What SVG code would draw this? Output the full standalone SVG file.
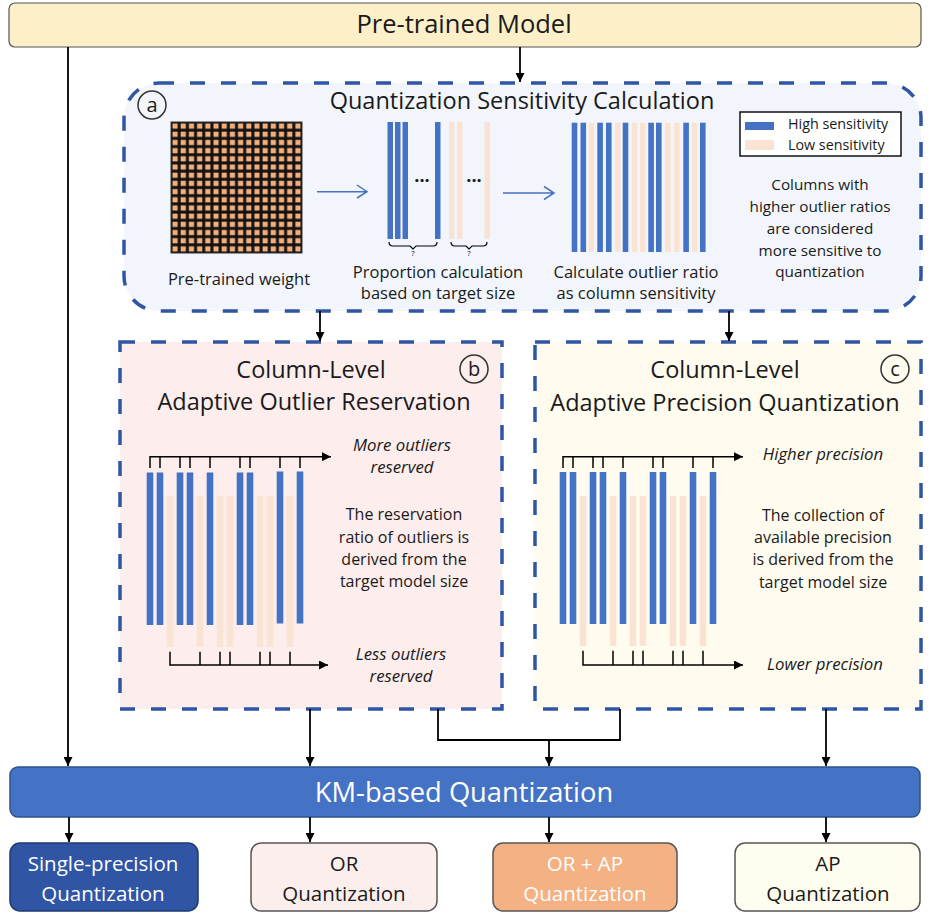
<svg xmlns="http://www.w3.org/2000/svg" width="928" height="913" viewBox="0 0 928 913">
<defs>
<style>
text{font-family:"Open Sans","Noto Sans","Liberation Sans",sans-serif;fill:#1a1a1a}
.c{text-anchor:middle}
.t15{font-size:16px}
.ta{font-size:16.5px}
.tr{font-size:15.3px}
.t22{font-size:23.5px}
.it{font-style:italic;font-size:16.8px}
.dash{fill:none;stroke:#2F55A4;stroke-width:3.5;stroke-dasharray:15 16}
.B{fill:#4472C4}
.L{fill:#FBE3D3}
.conn{fill:none;stroke:#000;stroke-width:1.8}
.ax{fill:none;stroke:#000;stroke-width:1.5}
.circ{fill:none;stroke:#333;stroke-width:1.5}
.barrow{fill:none;stroke:#4472C4;stroke-width:1.5}
</style>
<marker id="ah" viewBox="0 0 10 10" refX="10" refY="5" markerWidth="9" markerHeight="9" markerUnits="userSpaceOnUse" orient="auto"><path d="M0,0 L10,5 L0,10 z" fill="#000"/></marker>
<marker id="ah2" viewBox="0 0 10 10" refX="10" refY="5" markerWidth="10" markerHeight="9" markerUnits="userSpaceOnUse" orient="auto"><path d="M0,0 L10,5 L0,10 z" fill="#000"/></marker>
<pattern id="grid" x="171" y="122" width="8.1875" height="8.1875" patternUnits="userSpaceOnUse">
<rect x="1.5" y="1.5" width="5.2" height="5.2" fill="#F4AE7A"/>
</pattern>
</defs>

<g id="pretrained-model">
<rect x="9" y="3" width="912" height="44" rx="6" fill="#FDF0C8" stroke="#555" stroke-width="1.2"/>
<text class="c" x="464" y="33" style="font-size:25.5px">Pre-trained Model</text>
</g>

<g id="section-a">
<rect class="dash" x="124" y="83" width="797" height="228" rx="35" style="fill:#F2F6FC"/>
<circle class="circ" cx="152" cy="105" r="14"/>
<text class="c" x="152" y="112" style="font-size:20px">a</text>
<text class="c t22" x="522" y="108.5">Quantization Sensitivity Calculation</text>
<rect x="171" y="122" width="131" height="131" fill="#111"/>
<rect x="171" y="122" width="131" height="131" fill="url(#grid)"/>
<line x1="171" y1="187.5" x2="302" y2="187.5" stroke="#111" stroke-width="1.5"/>
<rect x="171" y="122" width="131" height="131" fill="none" stroke="#333" stroke-width="1"/>
<text class="c ta" x="239" y="285">Pre-trained weight</text>
<path class="barrow" d="M317,191.7 H366 M357,185 L367,191.7 L357,198"/>
<rect class="B" x="387.5" y="122" width="5.5" height="117"/>
<rect class="B" x="395" y="122" width="5.5" height="117"/>
<rect class="B" x="402.5" y="122" width="5.5" height="117"/>
<rect class="B" x="435" y="122" width="5.5" height="117"/>
<rect class="L" x="449" y="122" width="5.5" height="117"/>
<rect class="L" x="457" y="122" width="5.5" height="117"/>
<rect class="L" x="484.5" y="122" width="5.5" height="117"/>
<text class="c" x="422" y="187" style="font-size:18px;font-weight:bold">···</text>
<text class="c" x="474" y="187" style="font-size:18px;font-weight:bold">···</text>
<path class="ax" style="stroke-width:1.2" d="M389,242 q0,4 4,4 h17 l3,3 l3,-3 h17 q4,0 4,-4"/>
<path class="ax" style="stroke-width:1.2" d="M451,242 q0,4 4,4 h11 l3,3 l3,-3 h11 q4,0 4,-4"/>
<text class="c" x="413" y="256" style="font-size:8px">?</text>
<text class="c" x="469" y="256" style="font-size:8px">?</text>
<text class="c ta" x="438" y="278">Proportion calculation</text>
<text class="c ta" x="438" y="299">based on target size</text>
<path class="barrow" d="M503,193 H553 M544,186.5 L554,193 L544,199.5"/>
<g id="sens-cols">
<rect class="B" x="571.7" y="122.7" width="5.6" height="129.3"/>
<rect class="B" x="580.5" y="122.7" width="5.6" height="129.3"/>
<rect class="L" x="588.6" y="122.7" width="5.6" height="129.3"/>
<rect class="B" x="597.3" y="122.7" width="5.6" height="129.3"/>
<rect class="B" x="606" y="122.7" width="5.6" height="129.3"/>
<rect class="L" x="615" y="122.7" width="5.6" height="129.3"/>
<rect class="B" x="622.7" y="122.7" width="5.6" height="129.3"/>
<rect class="L" x="631.7" y="122.7" width="5.6" height="129.3"/>
<rect class="L" x="640" y="122.7" width="5.6" height="129.3"/>
<rect class="B" x="648.3" y="122.7" width="5.6" height="129.3"/>
<rect class="B" x="656" y="122.7" width="5.6" height="129.3"/>
<rect class="L" x="665" y="122.7" width="5.6" height="129.3"/>
<rect class="L" x="674" y="122.7" width="5.6" height="129.3"/>
<rect class="B" x="683.3" y="122.7" width="5.6" height="129.3"/>
<rect class="L" x="691.7" y="122.7" width="5.6" height="129.3"/>
<rect class="B" x="700" y="122.7" width="5.6" height="129.3"/>
</g>
<text class="c ta" x="636" y="278">Calculate outlier ratio</text>
<text class="c ta" x="636" y="299">as column sensitivity</text>
<rect x="740" y="112" width="161" height="44" fill="#fff" stroke="#111" stroke-width="1.5"/>
<rect class="B" x="745" y="122" width="29" height="8"/>
<rect class="L" x="745" y="140" width="29" height="10"/>
<text x="788" y="129" style="font-size:14.3px">High sensitivity</text>
<text x="788" y="150" style="font-size:14.3px">Low sensitivity</text>
<text class="c tr" x="820" y="189.5">Columns with</text>
<text class="c tr" x="820" y="212">higher outlier ratios</text>
<text class="c tr" x="820" y="233.5">are considered</text>
<text class="c tr" x="820" y="256">more sensitive to</text>
<text class="c tr" x="820" y="276.5">quantization</text>
</g>

<g id="section-b">
<rect class="dash" x="120" y="342" width="382" height="367" style="fill:#FDEDED"/>
<circle class="circ" cx="474" cy="369" r="14"/>
<text class="c" x="474" y="376" style="font-size:20px">b</text>
<text class="c t22" x="311" y="377.5">Column-Level</text>
<text class="c t22" x="314" y="409.5">Adaptive Outlier Reservation</text>
<path class="ax" d="M150,468 V456.7 H331" marker-end="url(#ah)"/>
<path class="ax" d="M160,456.7 V468 M180,456.7 V468 M190,456.7 V468 M210,456.7 V468 M240,456.7 V468 M250,456.7 V468 M280,456.7 V468 M300,456.7 V468"/>
<rect class="B" x="146.7" y="472.5" width="6.6" height="152.5"/>
<rect class="B" x="156.7" y="472.5" width="6.6" height="152.5"/>
<rect class="L" x="166.7" y="496" width="6.6" height="151"/>
<rect class="B" x="176.7" y="472.5" width="6.6" height="152.5"/>
<rect class="B" x="186.7" y="472.5" width="6.6" height="152.5"/>
<rect class="L" x="196.7" y="496" width="6.6" height="151"/>
<rect class="B" x="206.7" y="472.5" width="6.6" height="152.5"/>
<rect class="L" x="216.7" y="496" width="6.6" height="151"/>
<rect class="L" x="226.7" y="496" width="6.6" height="151"/>
<rect class="B" x="236.7" y="472.5" width="6.6" height="152.5"/>
<rect class="B" x="246.7" y="472.5" width="6.6" height="152.5"/>
<rect class="L" x="256.7" y="496" width="6.6" height="151"/>
<rect class="L" x="266.7" y="496" width="6.6" height="151"/>
<rect class="B" x="276.7" y="471.5" width="6.6" height="152"/>
<rect class="L" x="286.7" y="496" width="6.6" height="151"/>
<rect class="B" x="296.7" y="471.5" width="6.6" height="152"/>
<path class="ax" d="M170,651.7 V665 H328" marker-end="url(#ah)"/>
<path class="ax" d="M200,651.7 V665 M220,651.7 V665 M230,651.7 V665 M260,651.7 V665 M270,651.7 V665 M290,651.7 V665"/>
<text class="c it" x="402" y="451">More outliers</text>
<text class="c it" x="402" y="473">reserved</text>
<text class="c t15" x="404" y="520">The reservation</text>
<text class="c t15" x="404" y="543">ratio of outliers is</text>
<text class="c t15" x="404" y="565">derived from the</text>
<text class="c t15" x="404" y="587">target model size</text>
<text class="c it" x="401" y="660">Less outliers</text>
<text class="c it" x="401" y="682">reserved</text>
</g>

<g id="section-c">
<rect class="dash" x="535" y="342" width="386" height="367" style="fill:#FFFCEF"/>
<circle class="circ" cx="895" cy="369" r="14"/>
<text class="c" x="895" y="376" style="font-size:20px">c</text>
<text class="c t22" x="725" y="377.5">Column-Level</text>
<text class="c t22" x="725" y="410.5">Adaptive Precision Quantization</text>
<path class="ax" d="M563,468 V456.7 H743" marker-end="url(#ah)"/>
<path class="ax" d="M573,456.7 V468 M593,456.7 V468 M603,456.7 V468 M623,456.7 V468 M653,456.7 V468 M663,456.7 V468 M693,456.7 V468 M713,456.7 V468"/>
<rect class="B" x="559.7" y="472" width="6.6" height="152"/>
<rect class="B" x="569.7" y="472" width="6.6" height="152"/>
<rect class="L" x="579.7" y="496" width="6.6" height="150"/>
<rect class="B" x="589.7" y="472" width="6.6" height="152"/>
<rect class="B" x="599.7" y="472" width="6.6" height="152"/>
<rect class="L" x="609.7" y="496" width="6.6" height="150"/>
<rect class="B" x="619.7" y="472" width="6.6" height="152"/>
<rect class="L" x="629.7" y="496" width="6.6" height="150"/>
<rect class="L" x="639.7" y="496" width="6.6" height="150"/>
<rect class="B" x="649.7" y="472" width="6.6" height="152"/>
<rect class="B" x="659.7" y="472" width="6.6" height="152"/>
<rect class="L" x="669.7" y="496" width="6.6" height="150"/>
<rect class="L" x="679.7" y="496" width="6.6" height="150"/>
<rect class="B" x="689.7" y="472" width="6.6" height="152"/>
<rect class="L" x="699.7" y="496" width="6.6" height="150"/>
<rect class="B" x="709.7" y="472" width="6.6" height="152"/>
<path class="ax" d="M583,650.7 V665 H743" marker-end="url(#ah)"/>
<path class="ax" d="M613,650.7 V665 M633,650.7 V665 M643,650.7 V665 M673,650.7 V665 M683,650.7 V665 M703,650.7 V665"/>
<text class="c it" x="823" y="460">Higher precision</text>
<text class="c t15" x="823" y="521">The collection of</text>
<text class="c t15" x="823" y="543">available precision</text>
<text class="c t15" x="823" y="565">is derived from the</text>
<text class="c t15" x="823" y="588">target model size</text>
<text class="c it" x="825" y="670">Lower precision</text>
</g>

<g id="km-quantization">
<rect x="10" y="767" width="910" height="50" rx="8" fill="#4472C4" stroke="#2F528F" stroke-width="1.5"/>
<text class="c" x="464" y="802" style="font-size:27.3px;fill:#fff">KM-based Quantization</text>
</g>

<g id="single-precision">
<rect x="10" y="843" width="188" height="68" rx="10" fill="#2F55A4" stroke="#1F3A70" stroke-width="1.5"/>
<text class="c" x="103" y="870.5" style="font-size:20.5px;fill:#fff">Single-precision</text>
<text class="c" x="103" y="900.5" style="font-size:20.5px;fill:#fff">Quantization</text>
</g>
<g id="or-quantization">
<rect x="251" y="843" width="186" height="68" rx="10" fill="#FDEEEE" stroke="#555" stroke-width="1.5"/>
<text class="c" x="344" y="870.5" style="font-size:20.5px">OR</text>
<text class="c" x="344" y="900.5" style="font-size:20.5px">Quantization</text>
</g>
<g id="or-ap-quantization">
<rect x="493" y="843" width="184" height="68" rx="10" fill="#F4B183" stroke="#555" stroke-width="1.5"/>
<text class="c" x="585" y="870.5" style="font-size:20.5px;fill:#fff">OR + AP</text>
<text class="c" x="585" y="900.5" style="font-size:20.5px;fill:#fff">Quantization</text>
</g>
<g id="ap-quantization">
<rect x="735" y="843" width="185" height="68" rx="10" fill="#FFFDF0" stroke="#555" stroke-width="1.5"/>
<text class="c" x="828" y="870.5" style="font-size:20.5px">AP</text>
<text class="c" x="828" y="900.5" style="font-size:20.5px">Quantization</text>
</g>

<g id="connectors">
<path class="conn" d="M68,47 V766" marker-end="url(#ah2)"/>
<path class="conn" d="M520,47 V82" marker-end="url(#ah2)"/>
<path class="conn" d="M320,311 V341" marker-end="url(#ah2)"/>
<path class="conn" d="M729,311 V341" marker-end="url(#ah2)"/>
<path class="conn" d="M310,709 V766" marker-end="url(#ah2)"/>
<path class="conn" d="M438,709 V740 H620 V709"/>
<path class="conn" d="M549,740 V766" marker-end="url(#ah2)"/>
<path class="conn" d="M826,709 V766" marker-end="url(#ah2)"/>
<path class="conn" d="M69,817 V842" marker-end="url(#ah2)"/>
<path class="conn" d="M310,817 V842" marker-end="url(#ah2)"/>
<path class="conn" d="M549,817 V842" marker-end="url(#ah2)"/>
<path class="conn" d="M826,817 V842" marker-end="url(#ah2)"/>
</g>
</svg>
